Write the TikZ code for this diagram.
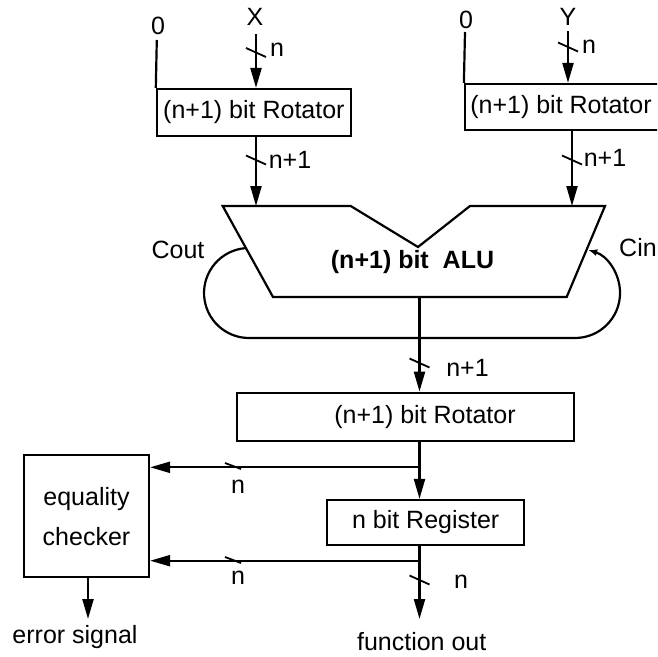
\documentclass[tikz,border=0pt]{standalone}
\usepackage{fontspec}
\setmainfont{Liberation Sans}
\usetikzlibrary{arrows.meta}
\begin{document}
\begin{tikzpicture}[x=1pt,y=-1pt,
  line width=2.2pt,
  txt/.style={font=\fontsize{25}{40}\selectfont, inner sep=0pt},
  btxt/.style={font=\fontsize{25}{40}\selectfont\bfseries, inner sep=0pt},
  blk/.style={draw, txt},
  arr/.style={-{Triangle[length=20pt,width=11pt]}},
  bus/.pic={\draw[line width=1.8pt] (-10,-4.5) -- (10,4.5);},
  hbus/.pic={\draw[line width=1.8pt] (-8,-3) -- (8,3);}]

\path[use as bounding box] (0,0) rectangle (657,657);
\clip (0,0) rectangle (657,657);

% input labels
\node[txt] (zeroL) at (158,26) {0};
\node[txt] (xin)   at (255,17) {X};
\node[txt] (zeroR) at (466,20) {0};
\node[txt] (yin)   at (568,17) {Y};

% input rotators
\node[blk, minimum width=194pt, minimum height=47pt] (rotX) at (253.9,112.5) {(n+1) bit Rotator};
\node[blk, minimum width=215pt, minimum height=46pt,
      label={[txt,xshift=-11.5pt]center:{(n+1) bit Rotator}}] (rotY) at (572.5,107) {};

% column positions
\coordinate (xcol) at (256,0);
\coordinate (ycolin) at (568,0);
\coordinate (ycol) at (572,0);
\coordinate (ocol) at (419.5,0);

% constant zero inputs
\coordinate (zl) at (156.8,40);
\coordinate (zr) at (465,32);
\draw (zl) -- (rotX.north west);
\draw (zr) -- (rotY.north west);

% operand inputs
\coordinate (xtop) at (256,34);
\coordinate (ytop) at (568,31);
\draw[arr] (xtop) -- (rotX.north -| xcol);
\draw[arr] (ytop) -- (rotY.north -| ycolin);
\pic at (256,52.5) {bus};
\pic at (568,47) {bus};
\node[txt] (nx) at (277,50) {n};
\node[txt] (ny) at (589,47) {n};

% ALU outline
\coordinate (aluTL) at (222.7,206);
\coordinate (aluNL) at (350.7,206);
\coordinate (aluV)  at (418,247);
\coordinate (aluNR) at (470,206);
\coordinate (aluTR) at (605,206);
\coordinate (aluBR) at (566.7,297);
\coordinate (aluBL) at (273,297);
\draw[line join=miter] (aluTL) -- (aluNL) -- (aluV) -- (aluNR) -- (aluTR) -- (aluBR) -- (aluBL) -- cycle;
\node[btxt] (alu) at (412.5,262) {(n+1) bit\ \ ALU};

% rotator outputs into the ALU
\draw[arr] (rotX.south -| xcol) -- (aluTL -| xcol);
\draw[arr] (rotY.south -| ycol) -- (aluTR -| ycol);
\pic at (256,160) {bus};
\pic at (572,160) {bus};
\node[txt] (nx1) at (290,160) {n+1};
\node[txt] (ny1) at (605,158) {n+1};

% carry loop Cout -> Cin
\coordinate (cout) at (245.9,248.1);
\draw[-{Latex[length=9pt,width=7pt]}] (cout) arc[start angle=266,end angle=90,radius=45]
  -- ++(326,0) arc[start angle=90,end angle=-73,radius=45] coordinate (cin);
\node[txt] (coutl) at (178,250) {Cout};
\node[txt] (cinl) at (638,248) {Cin};

% output rotator and register
\node[blk, minimum width=336.7pt, minimum height=48pt,
      label={[txt,xshift=19.3pt]center:{(n+1) bit Rotator}}] (rot2) at (405.65,416.7) {};
\node[blk, minimum width=196.7pt, minimum height=45pt] (reg) at (425.7,522.5) {n bit Register};
\node[blk, minimum width=125pt, minimum height=122.3pt, align=center] (chk) at (86.5,516.2) {equality\\checker};

\draw[arr] (aluBL -| ocol) -- (rot2.north -| ocol);
\pic at (419.5,363) {bus};
\node[txt] (no1) at (467.5,368) {n+1};

\draw[arr] (rot2.south -| ocol) -- (reg.north -| ocol);
\coordinate (b1) at (419.5,467.3);
\draw[arr] (b1) -- (chk.east |- b1);
\pic at (233,466) {hbus};
\node[txt] (nb1) at (238,487) {n};

\coordinate (fout) at (419.5,619);
\draw[arr] (reg.south -| ocol) -- (fout);
\coordinate (b2) at (419.5,560.7);
\draw[arr] (b2) -- (chk.east |- b2);
\pic at (233,560) {hbus};
\node[txt] (nb2) at (238,578) {n};
\pic at (419.5,580) {bus};
\node[txt] (nout) at (461,582) {n};
\node[txt] (foutl) at (421.7,642) {function out};

\coordinate (ecol) at (88,0);
\coordinate (eout) at (88,619);
\draw[arr] (chk.south -| ecol) -- (eout);
\node[txt] (errl) at (75,637) {error signal};
\end{tikzpicture}
\end{document}
